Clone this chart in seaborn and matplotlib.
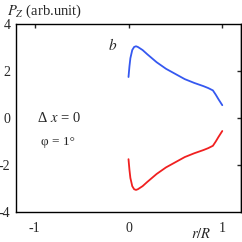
import matplotlib
matplotlib.use("Agg")
import matplotlib.pyplot as plt
import seaborn as sns
import pandas as pd

# ── Data ──────────────────────────────────────────────────────
r_vals = [0.0, 0.01, 0.02, 0.04, 0.06, 0.08, 0.10, 0.15, 0.20, 0.30, 0.40,
          0.50, 0.60, 0.70, 0.80, 0.85, 0.90, 0.93, 0.96, 1.0]
pz_up = [1.75, 2.20, 2.55, 2.90, 3.03, 3.06, 3.03, 2.90, 2.72, 2.38, 2.10,
         1.88, 1.66, 1.50, 1.36, 1.28, 1.18, 1.00, 0.80, 0.55]
pz_down = [-v for v in pz_up]
x_ticks = [-1, 0, 1]
y_ticks = [-4, -2, 0, 2, 4]
x_labels = ["-1", "0", "1"]
y_labels = ["-4", "-2", "0", "2", "4"]

BLUE = "#3558f0"
RED = "#f02020"

sns.set_style("white")
plt.rcParams.update({
    "font.family": ["Liberation Serif", "DejaVu Serif"],
    "font.size": 9,
    "mathtext.fontset": "stix",
    "axes.linewidth": 1.0,
})

df = pd.DataFrame({"r": r_vals, "up": pz_up, "down": pz_down})

fig = plt.figure(figsize=(2.42, 2.42), dpi=100)
ax = fig.add_axes([0.066, 0.124, 0.93, 0.776])
sns.lineplot(data=df, x="r", y="up", color=BLUE, lw=1.3, ax=ax, sort=False)
sns.lineplot(data=df, x="r", y="down", color=RED, lw=1.3, ax=ax, sort=False)

ax.set_xlim(-1.2, 1.2)
ax.set_ylim(-4, 4)
ax.set_xticks(x_ticks)
ax.set_yticks(y_ticks)
ax.set_xticklabels(x_labels)
ax.set_yticklabels(y_labels)
ax.tick_params(axis="x", direction="in", length=3, width=1, top=True,
               labelsize=10, pad=7)
ax.tick_params(axis="y", direction="out", length=3, width=1, right=False,
               labelsize=10, pad=1)
# inward ticks on the right side
ax2 = ax.secondary_yaxis("right")
ax2.set_yticks(y_ticks[1:-1])
ax2.tick_params(direction="in", length=3, width=1, labelright=False)
ax.set_xlabel("")
ax.set_ylabel("")
for s in ax.spines.values():
    s.set_color("black")

fig.text(0.03, 0.955, r"$P_Z$ (arb.unit)", fontsize=10.5, va="center")
fig.text(0.79, 0.035, r"$r/R$", fontsize=10.5, va="center")
ax.text(-0.22, 2.9, r"$b$", fontsize=11)
ax.text(-0.98, 0.0, "\u0394 $x$ = 0", fontsize=10.5, va="center")
ax.text(-0.93, -1.0, "\u03c6 = 1\u00b0", fontsize=9.5, va="center")

fig.savefig("out.png", dpi=100)
plt.close()
